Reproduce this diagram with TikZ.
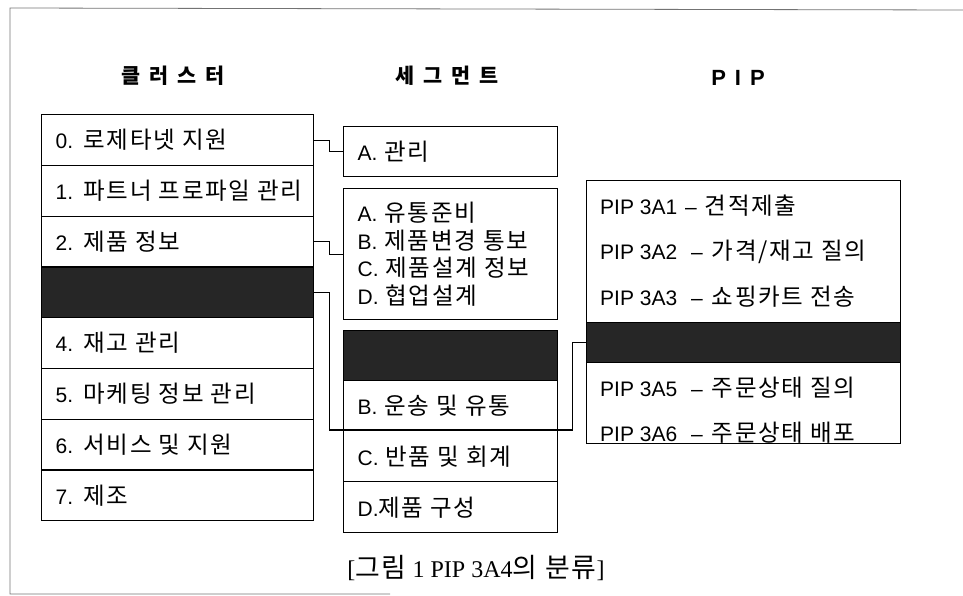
\documentclass[tikz,border=0pt]{standalone}
\usepackage{fontspec}
\setmainfont{Liberation Sans}
\newfontfamily\kr[Scale=1.12,LetterSpace=7]{Noto Sans CJK KR}
\newfontfamily\serifl{Liberation Serif}
\newcommand\bodyfont{\fontsize{21pt}{27.5pt}\selectfont}
\newcommand\headfont{\kr\bfseries\fontsize{18.5pt}{20pt}\selectfont}
\begin{document}
\begin{tikzpicture}[x=1pt,y=-1pt,
  box/.style={draw,line width=1.4pt,anchor=north west,inner xsep=14pt,inner ysep=0pt,align=left,font=\bodyfont},
  crow/.style={box,text width=244pt,minimum height=50.75pt},
  srow/.style={box,text width=186pt},
  dark/.style={fill=black!85},
  conn/.style={line width=1.1pt},
  head/.style={font=\headfont,inner sep=0pt},
  ptext/.style={anchor=west,font=\bodyfont,inner sep=0pt},
]
\useasboundingbox (0,0) rectangle (963,596);
% scan frame
\draw[black!55,line width=0.8pt] (390,594) -- (10,594) -- (10,8) -- (963,10);

% headings
\node[head] (h1) at (173,76) {클\hspace{9pt}러\hspace{9pt}스\hspace{9pt}터};
\node[head] (h2) at (447,76) {세\hspace{9pt}그\hspace{9pt}먼\hspace{9pt}트};
\node[head,font=\bfseries\fontsize{22pt}{24pt}\selectfont] (h3) at (738,78) {P\hspace{9pt}I\hspace{9pt}P};

% cluster column
\node[crow] (c0) at (41,114) {0. {\kr 로제타넷 지원}};
\node[crow] (c1) at (41,164.75) {\mbox{1. {\kr 파트너 프로파일 관리}}};
\node[crow] (c2) at (41,215.5) {2. {\kr 제품 정보}};
\node[crow,dark] (c3) at (41,266.25) {};
\node[crow] (c4) at (41,317) {4. {\kr 재고 관리}};
\node[crow] (c5) at (41,367.75) {5. {\kr 마케팅 정보 관리}};
\node[crow] (c6) at (41,418.5) {6. {\kr 서비스 및 지원}};
\node[crow] (c7) at (41,469.25) {7. {\kr 제조}};

% segment column
\node[srow,minimum height=50pt] (sA) at (343,126) {A. {\kr 관리}};
\node[srow,minimum height=131pt] (s2) at (343,188) {A. {\kr 유통준비}\\B. {\kr 제품변경 통보}\\C. {\kr 제품설계 정보}\\D. {\kr 협업설계}};
\node[srow,dark,minimum height=50pt] (s3a) at (343,330) {};
\node[srow,minimum height=50pt] (s3b) at (343,380) {B. {\kr 운송 및 유통}};
\node[srow,minimum height=51pt] (s3c) at (343,430) {C. {\kr 반품 및 회계}};
\node[srow,minimum height=51pt] (s3d) at (343,481) {D.{\kr 제품 구성}};

% PIP column
\node[draw,line width=1.4pt,anchor=north west,minimum width=314pt,minimum height=263pt,inner sep=0pt] (pipbox) at (586,180) {};
\node[draw,dark,line width=1.4pt,anchor=north west,minimum width=314pt,minimum height=40pt,inner sep=0pt] (pip4) at (586,322) {};
\node[ptext] (pip1) at (600,206) {PIP 3A1\hspace{8pt}–\hspace{8pt}{\kr 견적제출}};
\node[ptext] (pip2) at (600,252) {PIP 3A2\hspace{14pt}–\hspace{9pt}{\kr 가격/재고 질의}};
\node[ptext] (pip3) at (600,297) {PIP 3A3\hspace{14pt}–\hspace{9pt}{\kr 쇼핑카트 전송}};
\node[ptext] (pip5) at (600,388) {PIP 3A5\hspace{14pt}–\hspace{9pt}{\kr 주문상태 질의}};
\node[ptext,anchor=base west] (pip6) at (600,441) {PIP 3A6\hspace{14pt}–\hspace{9pt}{\kr 주문상태 배포}};

% caption
\node[font=\fontsize{24pt}{26pt}\selectfont,inner sep=0pt] (cap) at (476,568) {\serifl[{\kr 그림} 1 PIP 3A4{\kr 의\hspace{8pt}분류}]};

% connectors
\draw[conn] (c0.east) -- ++(15,0) |- (sA.west);
\draw[conn] (c2.east) -- ++(15,0) |- (s2.west);
\draw[conn] (c3.east) -- ++(15,0) |- (s3c.north west) -- (s3c.north east) -- ++(14,0) |- (pip4.west);
\end{tikzpicture}
\end{document}
